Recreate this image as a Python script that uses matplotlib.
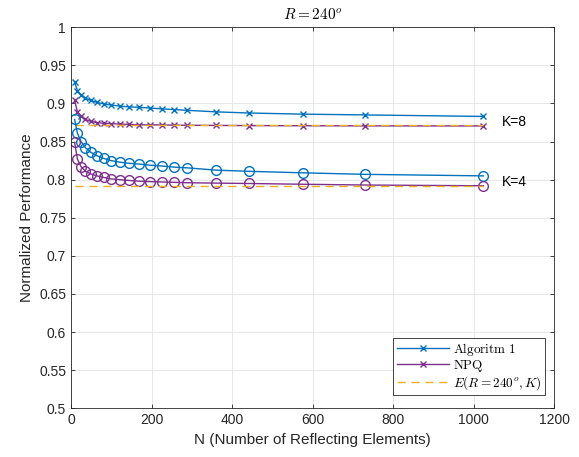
import numpy as np
import matplotlib
matplotlib.use('Agg')
import matplotlib.pyplot as plt

# data
N = [9, 16, 25, 36, 49, 64, 81, 100, 121, 144, 169, 196, 225, 256, 289,
     361, 441, 576, 729, 1024]

alg_k8 = [0.928, 0.917, 0.911, 0.907, 0.904, 0.9015, 0.8995, 0.898, 0.8965,
          0.8955, 0.895, 0.894, 0.893, 0.892, 0.891, 0.889, 0.8875, 0.886,
          0.885, 0.883]
npq_k8 = [0.904, 0.889, 0.883, 0.879, 0.8765, 0.875, 0.874, 0.8735, 0.873,
          0.8725, 0.872, 0.872, 0.8718, 0.8716, 0.8714, 0.8712, 0.871, 0.8708,
          0.8706, 0.8705]
alg_k4 = [0.879, 0.861, 0.850, 0.842, 0.836, 0.8315, 0.828, 0.825, 0.823,
          0.8215, 0.8205, 0.819, 0.818, 0.8165, 0.8155, 0.8125, 0.811, 0.809,
          0.807, 0.805]
npq_k4 = [0.849, 0.827, 0.817, 0.811, 0.8075, 0.805, 0.803, 0.801, 0.800,
          0.799, 0.798, 0.7975, 0.797, 0.7965, 0.796, 0.7955, 0.795, 0.794,
          0.793, 0.792]
e_k8 = 0.8715
e_k4 = 0.7918

blue = '#0072BD'
purple = '#7E2F8E'
orange = '#EDB120'

plt.rcParams['font.family'] = 'Liberation Sans'
plt.rcParams['mathtext.fontset'] = 'cm'

fig = plt.figure(figsize=(5.79, 4.57), dpi=100)
ax = fig.add_axes([0.1226, 0.1066, 0.8347, 0.8337])

ax.plot(N, alg_k8, '-x', color=blue, lw=1, ms=5, mew=1, label=r'$\mathrm{Algoritm\ 1}$')
ax.plot(N, npq_k8, '-x', color=purple, lw=1, ms=5, mew=1, label=r'$\mathrm{NPQ}$')
ax.plot([N[0], N[-1]], [e_k8, e_k8], '--', color=orange, lw=1, dashes=(6, 4),
        label=r'$E(R=240^o,K)$')
ax.plot(N, alg_k4, '-o', color=blue, lw=1, ms=7, mew=1, mfc='none')
ax.plot(N, npq_k4, '-o', color=purple, lw=1, ms=7, mew=1, mfc='none')
ax.plot([N[0], N[-1]], [e_k4, e_k4], '--', color=orange, lw=1, dashes=(6, 4))

ax.text(1069, 0.8753, 'K=8', fontsize=10, va='center')
ax.text(1069, 0.7974, 'K=4', fontsize=10, va='center')

ax.set_xlim(0, 1200)
ax.set_ylim(0.5, 1)
ax.set_xticks(np.arange(0, 1201, 200))
ax.set_yticks(np.arange(0.5, 1.001, 0.05))
ax.set_yticklabels(['0.5', '0.55', '0.6', '0.65', '0.7', '0.75', '0.8', '0.85',
                    '0.9', '0.95', '1'])
ax.grid(True, color='#e3e3e3', lw=0.6)
ax.set_axisbelow(True)
ax.tick_params(direction='in', top=True, right=True, labelsize=10,
               length=3, width=0.6, colors='#262626')
for s in ax.spines.values():
    s.set_color('#262626')
    s.set_linewidth(0.6)

ax.set_xlabel('N (Number of Reflecting Elements)', fontsize=11, color='#262626')
ax.set_ylabel('Normalized Performance', fontsize=11, color='#262626')
ax.set_title(r'$R = 240^o$', fontsize=11, pad=6)

leg = ax.legend(loc='lower right', fontsize=9.5, fancybox=False, framealpha=1,
                edgecolor='#262626', handlelength=4.0, borderpad=0.25,
                labelspacing=0.0, handletextpad=0.3, borderaxespad=0,
                bbox_to_anchor=(0.981, 0.035))
leg.get_frame().set_linewidth(0.6)

fig.savefig('out.png', dpi=100)
